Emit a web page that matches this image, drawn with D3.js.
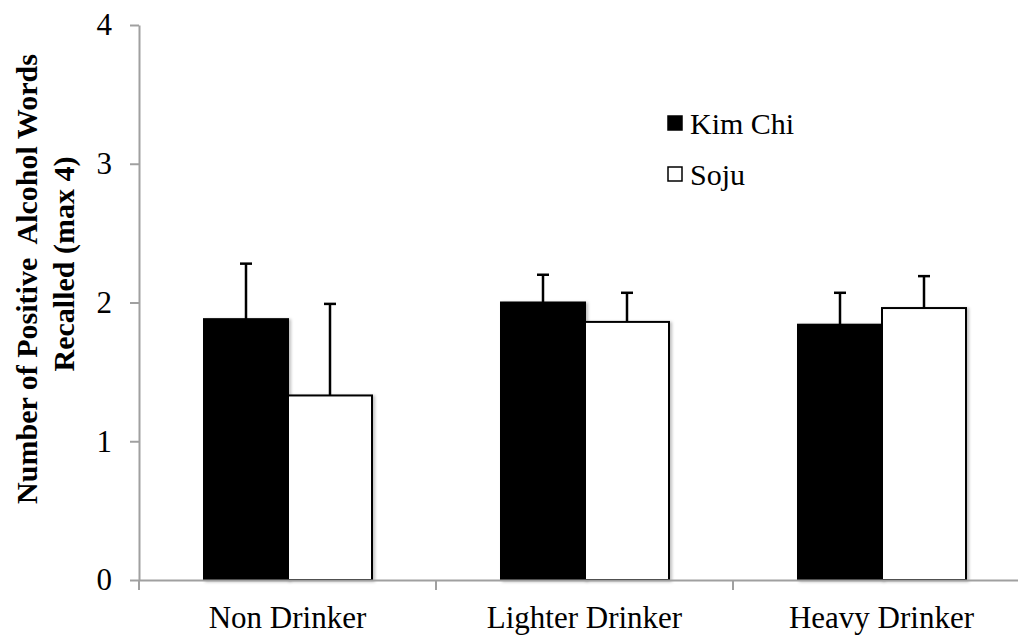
<!DOCTYPE html>
<html><head><meta charset="utf-8">
<script src="https://cdn.jsdelivr.net/npm/d3@7"></script>
<style>
html,body{margin:0;padding:0;background:#fff;}
svg{display:block;}
svg text{font-family:"Liberation Serif","Times New Roman",serif !important;}
</style></head>
<body><svg id="c" width="1018" height="643"></svg>
<script>
const categories = ["Non Drinker", "Lighter Drinker", "Heavy Drinker"];
const series = ["Kim Chi", "Soju"];
const kimChi = [1.88, 2.00, 1.84];
const soju = [1.33, 1.86, 1.96];
const kimChiErr = [0.40, 0.20, 0.23];
const sojuErr = [0.66, 0.21, 0.23];
const yTicks = [0, 1, 2, 3, 4];
const yTitle = ["Number of Positive  Alcohol Words", "Recalled (max 4)"];

const FONT = '"Liberation Serif", "Times New Roman", serif';
const svg = d3.select("#c");
const defs = svg.append("defs");
const f = defs.append("filter").attr("id","sh").attr("x","-10%").attr("y","-10%").attr("width","130%").attr("height","130%");
f.append("feDropShadow").attr("dx",2).attr("dy",1).attr("stdDeviation",1.5).attr("flood-color","#000").attr("flood-opacity",0.25);

const x0 = d3.scaleBand().domain(categories).range([139, 1030]);
const x1 = d3.scaleBand().domain(series).range([65, 233]);
const y = d3.scaleLinear().domain([0, 4]).range([580, 25]);

const data = categories.map((c, i) => ({
  cat: c,
  vals: [
    {s: series[0], v: kimChi[i], e: kimChiErr[i]},
    {s: series[1], v: soju[i], e: sojuErr[i]}
  ]
}));
const fill = {"Kim Chi": "#000", "Soju": "#fff"};

// bars
const g = svg.append("g").selectAll("g").data(data).join("g")
  .attr("transform", d => `translate(${x0(d.cat)},0)`);
g.selectAll("rect").data(d => d.vals).join("rect")
  .attr("x", d => x1(d.s))
  .attr("y", d => y(d.v))
  .attr("width", x1.bandwidth())
  .attr("height", d => y(0) - y(d.v))
  .attr("fill", d => fill[d.s])
  .attr("stroke", "#000")
  .attr("stroke-width", 2)
  .attr("filter", "url(#sh)");

// error bars
const eb = g.selectAll("g.err").data(d => d.vals).join("g").attr("class","err");
eb.append("line")
  .attr("x1", d => x1(d.s) + x1.bandwidth()/2)
  .attr("x2", d => x1(d.s) + x1.bandwidth()/2)
  .attr("y1", d => y(d.v))
  .attr("y2", d => y(d.v + d.e))
  .attr("stroke", "#000").attr("stroke-width", 2.5);
eb.append("line")
  .attr("x1", d => x1(d.s) + x1.bandwidth()/2 - 6)
  .attr("x2", d => x1(d.s) + x1.bandwidth()/2 + 6)
  .attr("y1", d => y(d.v + d.e))
  .attr("y2", d => y(d.v + d.e))
  .attr("stroke", "#000").attr("stroke-width", 2.5);

// y axis
const yAxis = svg.append("g").attr("transform", "translate(139,0)")
  .call(d3.axisLeft(y).tickValues(yTicks).tickFormat(d3.format("d")).tickSize(9).tickSizeOuter(0).tickPadding(18));
yAxis.attr("font-family", FONT);
yAxis.select(".domain").attr("stroke", "#a0a0a0").attr("stroke-width", 2);
yAxis.selectAll(".tick line").attr("stroke", "#a0a0a0").attr("stroke-width", 2);
yAxis.selectAll(".tick text").attr("font-size", 31).attr("fill", "#000").style("font-family", FONT);

// x axis
const xAxis = svg.append("g").attr("transform", "translate(0,580)")
  .call(d3.axisBottom(x0).tickSize(0).tickSizeOuter(0).tickPadding(26));
xAxis.attr("font-family", FONT);
xAxis.select(".domain").attr("stroke", "#a0a0a0").attr("stroke-width", 2);
xAxis.selectAll(".tick text").attr("font-size", 31).attr("fill", "#000").style("font-family", FONT)
  .attr("dy", "0.71em");
// boundary ticks
const bounds = categories.map(c => x0(c)).concat([x0(categories[categories.length-1]) + x0.bandwidth()]);
svg.append("g").selectAll("line").data(bounds).join("line")
  .attr("x1", d => d).attr("x2", d => d)
  .attr("y1", 580).attr("y2", 590)
  .attr("stroke", "#a0a0a0").attr("stroke-width", 2);

// y title
const yt = svg.append("text")
  .attr("transform", "rotate(-90)")
  .attr("font-size", 30).attr("font-weight", "bold").attr("text-anchor", "middle")
  .style("font-family", FONT).style("white-space", "pre");
yt.append("tspan").attr("x", -279).attr("y", 37).text(yTitle[0]);
yt.append("tspan").attr("x", -264).attr("y", 74).text(yTitle[1]);

// legend
const leg = svg.append("g").selectAll("g").data(series).join("g")
  .attr("transform", (d, i) => `translate(668,${116 + i*51})`);
leg.append("rect").attr("width", 14).attr("height", 14)
  .attr("fill", d => fill[d]).attr("stroke", "#000").attr("stroke-width", 1.5);
leg.append("text").attr("x", 22).attr("y", 18).attr("font-size", 30)
  .style("font-family", FONT)
  .text(d => d);
</script>
</body></html>
